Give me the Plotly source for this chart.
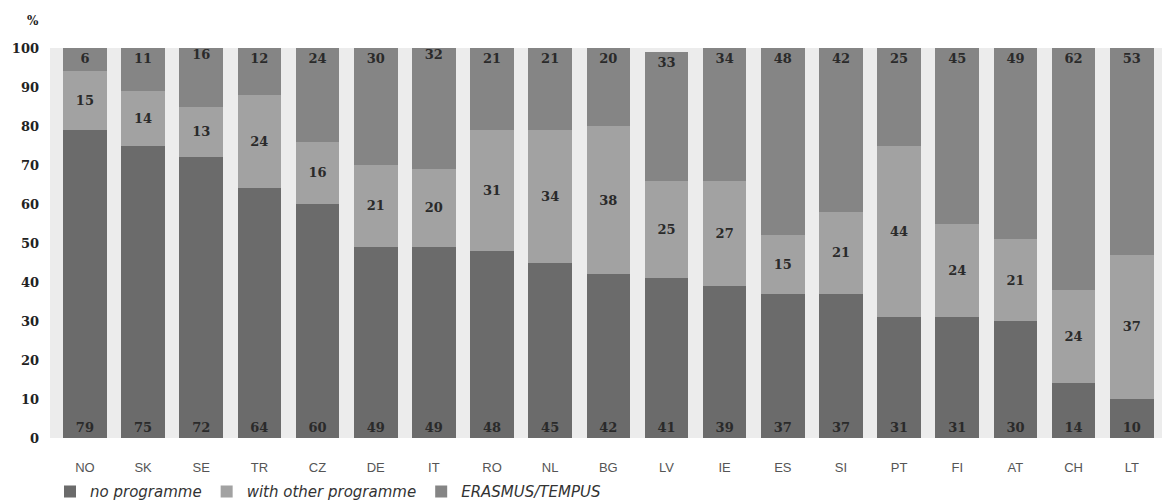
import plotly.graph_objects as go

countries = ["NO", "SK", "SE", "TR", "CZ", "DE", "IT", "RO", "NL", "BG",
             "LV", "IE", "ES", "SI", "PT", "FI", "AT", "CH", "LT"]
no_programme = [79, 75, 72, 64, 60, 49, 49, 48, 45, 42, 41, 39, 37, 37, 31, 31, 30, 14, 10]
other_programme = [15, 14, 13, 24, 16, 21, 20, 31, 34, 38, 25, 27, 15, 21, 44, 24, 21, 24, 37]
erasmus = [6, 11, 16, 12, 24, 30, 32, 21, 21, 20, 33, 34, 48, 42, 25, 45, 49, 62, 53]
y_ticks = [0, 10, 20, 30, 40, 50, 60, 70, 80, 90, 100]

num_font = dict(family="DejaVu Serif", size=13, color="#2a2a2a", weight="bold")

fig = go.Figure()
series = [
    ("no programme", no_programme, "#6b6b6b", "start"),
    ("with other programme", other_programme, "#a2a2a2", "middle"),
    ("ERASMUS/TEMPUS", erasmus, "#858585", "end"),
]
for name, vals, col, anchor in series:
    fig.add_trace(go.Bar(
        x=countries, y=vals, name=name,
        marker=dict(color=col, line=dict(width=0)),
        text=[str(v) for v in vals], textposition="inside",
        insidetextanchor=anchor, textangle=0,
        insidetextfont=num_font, constraintext="none",
        width=0.75,
    ))

fig.update_layout(
    barmode="stack",
    width=1168, height=504,
    margin=dict(l=50, r=6, t=48, b=66, autoexpand=False),
    paper_bgcolor="white",
    plot_bgcolor="#ececec",
    showlegend=True,
    legend=dict(orientation="h", x=0.0, xanchor="left", y=-0.138, yanchor="middle",
                font=dict(family="DejaVu Sans", size=15, color="#333", style="italic"),
                traceorder="normal", itemwidth=30, bgcolor="rgba(0,0,0,0)"),
    xaxis=dict(range=[-0.6, 18.52], showgrid=False, zeroline=False, showline=False,
               tickfont=dict(family="Liberation Sans", size=13, color="#555"), ticks="",
               ticklabelstandoff=20),
    yaxis=dict(range=[0, 100], tickvals=y_ticks, showgrid=False, zeroline=False,
               tickfont=dict(family="DejaVu Serif", size=13, color="#222", weight="bold"),
               ticks="", ticklabelstandoff=10),
    annotations=[dict(text="%", xref="paper", yref="paper", x=-0.015, y=1.07,
                      xanchor="center", yanchor="middle", showarrow=False,
                      font=dict(family="DejaVu Serif", size=12, color="#222", weight="bold"))],
)

fig.write_html("out.html", config={"displayModeBar": False},
               post_script="document.body.style.margin='0';")
